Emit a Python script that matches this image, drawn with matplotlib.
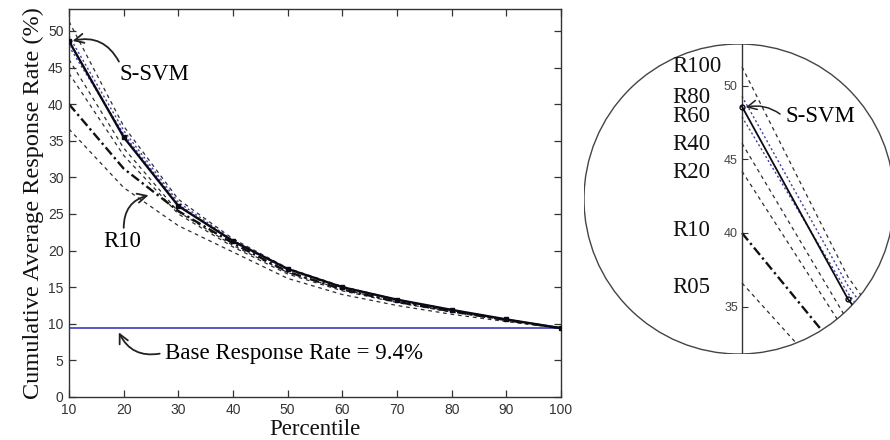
import matplotlib
matplotlib.use("Agg")
import matplotlib.pyplot as plt
from matplotlib.patches import Circle

# Percentile cut-offs and cumulative average response rate (%) per model
percentile = [10, 20, 30, 40, 50, 60, 70, 80, 90, 100]
s_svm = [48.6, 35.5, 26.1, 21.3, 17.5, 15.0, 13.3, 11.9, 10.6, 9.4]
r100 = [51.3, 37.0, 27.0, 21.6, 17.6, 15.1, 13.3, 11.9, 10.6, 9.4]
r80 = [49.3, 36.4, 26.6, 21.4, 17.5, 15.0, 13.3, 11.9, 10.6, 9.4]
r60 = [47.9, 35.9, 26.3, 21.2, 17.4, 14.9, 13.2, 11.8, 10.6, 9.4]
r40 = [46.1, 34.0, 25.3, 20.7, 17.0, 14.7, 13.0, 11.7, 10.5, 9.4]
r20 = [44.2, 33.0, 25.0, 20.5, 16.8, 14.5, 12.9, 11.6, 10.5, 9.4]
r10 = [40.0, 31.2, 25.4, 21.0, 17.1, 14.7, 13.0, 11.7, 10.5, 9.4]
r05 = [36.6, 28.6, 23.4, 19.8, 16.2, 14.0, 12.5, 11.3, 10.3, 9.4]
base_rate = 9.4

x_ticks = [10, 20, 30, 40, 50, 60, 70, 80, 90, 100]
y_ticks = [0, 5, 10, 15, 20, 25, 30, 35, 40, 45, 50]
zoom_ticks = [35, 40, 45, 50]
zoom_labels = ["R100", "R80", "R60", "R40", "R20", "R10", "R05"]
zoom_label_y = [51.3, 49.2, 47.9, 46.0, 44.1, 40.2, 36.3]

SERIF = ["Liberation Serif", "DejaVu Serif"]
SANS = ["Liberation Sans", "DejaVu Sans"]
TXT = 16.5

dash = dict(color="#2e2e2e", lw=0.9, linestyle=(0, (3, 3)))
dotblue = dict(color="#4040a0", lw=1.0, linestyle=(0, (1.5, 1.8)))
dashdot = dict(color="#111111", lw=1.7, linestyle=(0, (4, 1.5, 1, 1.5)))

fig = plt.figure(figsize=(8.9, 4.4), dpi=100)

# ---- main panel ----
ax = fig.add_axes([69 / 890, 1 - 397 / 440, 492 / 890, 388 / 440])
ax.axhline(base_rate, color="#4b4bc0", lw=1.3, zorder=1)
ax.plot(percentile, r05, **dash)
ax.plot(percentile, r20, **dash)
ax.plot(percentile, r40, **dash)
ax.plot(percentile, r60, **dotblue)
ax.plot(percentile, r80, **dotblue)
ax.plot(percentile, r100, **dash)
ax.plot(percentile, r10, **dashdot)
ax.plot(percentile, s_svm, color="#0a0a14", lw=1.7, marker="s", ms=3.5, zorder=5)

ax.set_xlim(10, 100)
ax.set_ylim(0, 53)
ax.set_xticks(x_ticks)
ax.set_yticks(y_ticks)
ax.tick_params(direction="in", length=5, width=0.9, top=True, right=True,
               labelsize=10, labelcolor="#333333", color="#333333", pad=4)
for lab in ax.get_xticklabels() + ax.get_yticklabels():
    lab.set_family(SANS)
for sp in ax.spines.values():
    sp.set_color("#333333")
    sp.set_linewidth(1.0)

ax.set_xlabel("Percentile", family=SERIF, fontsize=TXT, labelpad=2, color="#111111")
ax.set_ylabel("Cumulative Average Response Rate (%)", family=SERIF, fontsize=17.5,
              labelpad=3, color="#111111")

arrow = dict(arrowstyle="->", color="#222222", lw=1.3)
ax.annotate("S-SVM", xy=(10.4, 48.6), xytext=(19.3, 44.0), family=SERIF, fontsize=TXT,
            ha="left", va="center",
            arrowprops=dict(arrow, connectionstyle="arc3,rad=0.4", relpos=(0, 1.05),
                            shrinkA=0, shrinkB=1))
ax.annotate("R10", xy=(24.8, 27.6), xytext=(16.2, 21.3), family=SERIF, fontsize=TXT,
            ha="left", va="center",
            arrowprops=dict(arrow, connectionstyle="arc3,rad=-0.4", relpos=(0.55, 1.1),
                            shrinkA=0, shrinkB=1))
ax.annotate("Base Response Rate = 9.4%", xy=(19.0, 9.0), xytext=(27.6, 6.0),
            family=SERIF, fontsize=TXT, ha="left", va="center",
            arrowprops=dict(arrow, connectionstyle="arc3,rad=-0.4", relpos=(-0.01, 0.5),
                            shrinkA=2, shrinkB=1))

# ---- circular magnifier around the 10th percentile ----
cx, cy, r = 739, 199, 155
axz = fig.add_axes([(cx - r) / 890, 1 - (cy + r) / 440, 2 * r / 890, 2 * r / 440])
axz.set_xlim(10 - (742 - (cx - r)) / 10.6, 10 + ((cx + r) - 742) / 10.6)
axz.set_ylim(50 - ((cy + r) - 86) / 14.7, 50 + (86 - (cy - r)) / 14.7)
axz.patch.set_alpha(0)
circ = Circle((0.5, 0.5), 0.5, transform=axz.transAxes, facecolor="white",
              edgecolor="#444444", lw=1.0, zorder=0)
axz.add_patch(circ)

zl = []
zl += axz.plot(percentile, r05, **dash)
zl += axz.plot(percentile, r20, **dash)
zl += axz.plot(percentile, r40, **dash)
zl += axz.plot(percentile, r60, **dotblue)
zl += axz.plot(percentile, r80, **dotblue)
zl += axz.plot(percentile, r100, **dash)
zl += axz.plot(percentile, r10, **dashdot)
zl += axz.plot(percentile, s_svm, color="#0a0a14", lw=1.3, marker="o", ms=3.5,
               markerfacecolor="none", zorder=5)
for ln in zl:
    ln.set_clip_path(circ)

for name in ("top", "right", "bottom"):
    axz.spines[name].set_visible(False)
axz.spines["left"].set_position(("data", 10))
axz.spines["left"].set_color("#333333")
axz.spines["left"].set_linewidth(1.0)
axz.spines["left"].set_clip_path(circ)
axz.set_xticks([])
axz.set_yticks(zoom_ticks)
axz.tick_params(axis="y", direction="in", length=4, width=0.8, labelsize=9,
                labelcolor="#444444", color="#333333", pad=3)
for lab in axz.get_yticklabels():
    lab.set_family(SANS)

for lab, yv in zip(zoom_labels, zoom_label_y):
    axz.text(3.4, yv, lab, family=SERIF, fontsize=TXT, ha="left", va="center",
             color="#111111")

axz.annotate("S-SVM", xy=(10.35, 48.55), xytext=(14.06, 47.9), family=SERIF,
             fontsize=TXT, ha="left", va="center",
             arrowprops=dict(arrow, lw=1.1, connectionstyle="arc3,rad=0.25",
                             relpos=(-0.02, 0.5), shrinkA=2, shrinkB=0))

fig.savefig("out.png", dpi=100)
